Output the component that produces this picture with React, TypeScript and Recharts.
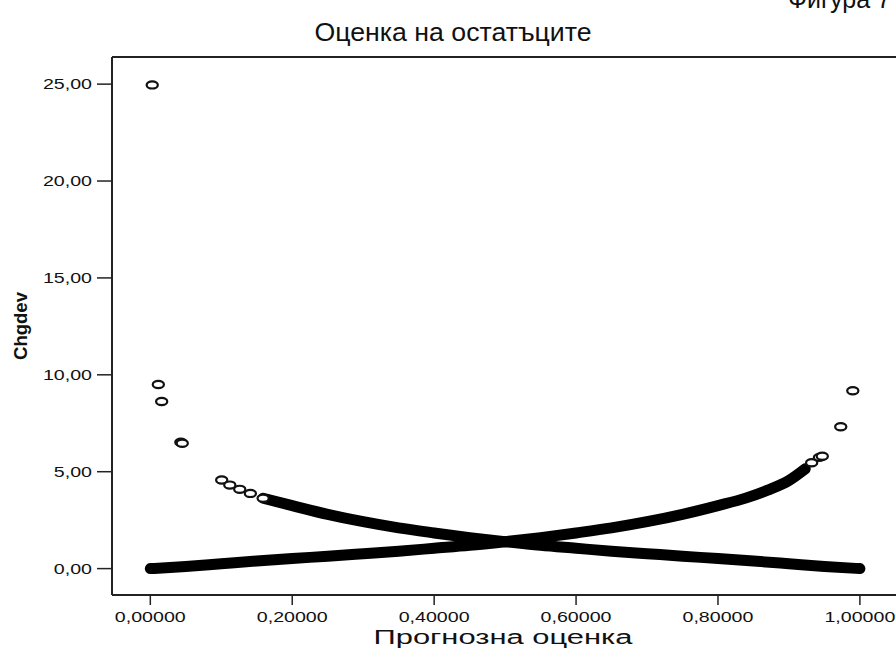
import { ScatterChart, Scatter, XAxis, YAxis, ReferenceLine } from "recharts";

// tick values
const X_TICKS = [0, 0.2, 0.4, 0.6, 0.8, 1];
const Y_TICKS = [0, 5, 10, 15, 20, 25];

// dense band: Chgdev falling with predicted value
const fallX = [0.159, 0.2, 0.25, 0.3, 0.35, 0.4, 0.45, 0.5, 0.55, 0.6, 0.65, 0.7, 0.75, 0.8, 0.85, 0.9, 0.95, 1.0];
const fallY = [3.63, 3.25, 2.8, 2.42, 2.1, 1.84, 1.6, 1.39, 1.2, 1.05, 0.9, 0.77, 0.64, 0.52, 0.39, 0.25, 0.11, 0.0];

// dense band: Chgdev rising with predicted value
const riseX = [0.0, 0.05, 0.1, 0.15, 0.2, 0.25, 0.3, 0.35, 0.4, 0.45, 0.5, 0.55, 0.6, 0.65, 0.7, 0.75, 0.8, 0.84, 0.87, 0.9, 0.923];
const riseY = [0.0, 0.11, 0.25, 0.39, 0.52, 0.64, 0.77, 0.9, 1.05, 1.2, 1.39, 1.6, 1.84, 2.1, 2.42, 2.8, 3.25, 3.65, 4.05, 4.55, 5.15];

// separate (sparse) cases
const caseX = [0.0027, 0.0113, 0.016, 0.043, 0.045, 0.1006, 0.112, 0.126, 0.141, 0.159, 0.932, 0.943, 0.947, 0.973, 0.99];
const caseY = [24.96, 9.5, 8.62, 6.52, 6.47, 4.57, 4.31, 4.09, 3.88, 3.63, 5.46, 5.74, 5.8, 7.32, 9.18];

const toPoints = (xs: number[], ys: number[]) => xs.map((x, i) => ({ x, y: ys[i] }));

const fallData = toPoints(fallX, fallY);
const riseData = toPoints(riseX, riseY);
const caseData = toPoints(caseX, caseY);

const FONT = "'Liberation Sans', Arial, sans-serif";

// the source image is stretched sideways, so labels get a forced width
const labelWidth = (s: string) =>
  s.split("").reduce((w, ch) => w + (ch === "," ? 5.5 : 10.9), 0);

const XTick = (props: any) => {
  const { x, y, payload } = props;
  const s = Number(payload.value).toFixed(5).replace(".", ",");
  return (
    <text x={x} y={y} dy="0.71em" textAnchor="middle" fontSize={14} fontFamily={FONT} fill="#111"
      textLength={labelWidth(s)} lengthAdjust="spacingAndGlyphs">
      {s}
    </text>
  );
};

const YTick = (props: any) => {
  const { x, y, payload } = props;
  const s = Number(payload.value).toFixed(2).replace(".", ",");
  return (
    <text x={x} y={y} dy="0.36em" textAnchor="end" fontSize={14} fontFamily={FONT} fill="#111"
      textLength={labelWidth(s)} lengthAdjust="spacingAndGlyphs">
      {s}
    </text>
  );
};

const HollowCase = (props: any) => {
  const { cx, cy } = props;
  if (cx == null || cy == null) return <g />;
  return <ellipse cx={cx} cy={cy} rx={5.6} ry={3.6} fill="#fff" stroke="#111" strokeWidth={2.2} />;
};

const NoMark = () => <g />;

export default function App() {
  return (
    <div style={{ position: "absolute", left: 0, top: 0, width: 896, height: 649, overflow: "hidden", background: "#fff" }}>
      <ScatterChart width={910} height={649} margin={{ top: 57, right: 12, bottom: 0, left: 0 }}>
        <XAxis
          type="number"
          dataKey="x"
          domain={[-0.054, 1.0537]}
          allowDataOverflow
          ticks={X_TICKS}
          height={54}
          tickSize={10}
          tickMargin={7}
          tick={<XTick />}
          axisLine={{ stroke: "#222", strokeWidth: 2 }}
          tickLine={{ stroke: "#222", strokeWidth: 1.5 }}
        />
        <YAxis
          type="number"
          dataKey="y"
          domain={[-1.362, 26.4]}
          allowDataOverflow
          ticks={Y_TICKS}
          width={112}
          tickSize={15}
          tickMargin={5}
          tick={<YTick />}
          axisLine={{ stroke: "#222", strokeWidth: 2 }}
          tickLine={{ stroke: "#222", strokeWidth: 1.5 }}
        />
        <ReferenceLine y={26.4} stroke="#222" strokeWidth={2} />
        <Scatter
          data={riseData}
          shape={<NoMark />}
          line={{ stroke: "#000", strokeWidth: 11, strokeLinecap: "round", strokeLinejoin: "round" }}
          lineJointType="monotoneX"
          isAnimationActive={false}
        />
        <Scatter
          data={fallData}
          shape={<NoMark />}
          line={{ stroke: "#000", strokeWidth: 11, strokeLinecap: "round", strokeLinejoin: "round" }}
          lineJointType="monotoneX"
          isAnimationActive={false}
        />
        <Scatter data={caseData} shape={<HollowCase />} isAnimationActive={false} />
      </ScatterChart>

      <svg width={896} height={649} style={{ position: "absolute", left: 0, top: 0, pointerEvents: "none" }}>
        <text x={788} y={8} fontSize={25} fontFamily={FONT} fill="#111">Фигура 7</text>
        <text x={453} y={41} textAnchor="middle" fontSize={25} fontFamily={FONT} fill="#111"
          textLength={277} lengthAdjust="spacingAndGlyphs">
          Оценка на остатъците
        </text>
        <text x={503} y={644} textAnchor="middle" fontSize={20} fontFamily={FONT} fill="#111"
          textLength={259} lengthAdjust="spacingAndGlyphs">
          Прогнозна оценка
        </text>
        <text x={27} y={326} transform="rotate(-90 27 326)" textAnchor="middle" fontSize={18} fontWeight="bold"
          fontFamily={FONT} fill="#111" textLength={68} lengthAdjust="spacingAndGlyphs">
          Chgdev
        </text>
      </svg>
    </div>
  );
}
